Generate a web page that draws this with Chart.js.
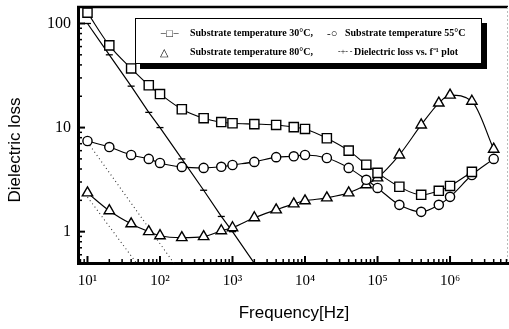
<!DOCTYPE html>
<html><head><meta charset="utf-8">
<script src="https://cdn.jsdelivr.net/npm/chart.js@4/dist/chart.umd.min.js"></script>
<style>
html,body{margin:0;padding:0;background:#fff;overflow:hidden;}
#wrap{position:relative;width:509px;height:329px;}
#c{position:absolute;left:0;top:0;}
.t{position:absolute;white-space:nowrap;color:#000;}
#legend{position:absolute;left:135px;top:18px;width:345px;height:44px;border:1px solid #000;box-shadow:5px 5px 0 #000;background:#fff;}
#legend span{position:absolute;white-space:nowrap;font-family:"Liberation Serif",serif;font-weight:bold;font-size:10px;line-height:12px;}
</style>
</head><body>
<div id="wrap">
<canvas id="c" width="509" height="329"></canvas>
<div id="legend">
  <span style="left:24px;top:8px;font-weight:normal;font-size:11px">−□−</span>
  <span style="left:54px;top:8px">Substrate temperature 30°C,</span>
  <span style="left:191px;top:8px;font-weight:normal;font-size:11px">-○</span>
  <span style="left:209px;top:8px">Substrate temperature 55°C</span>
  <span style="left:24px;top:27px;font-weight:normal;font-size:11px">△</span>
  <span style="left:54px;top:27px">Substrate temperature 80°C,</span>
  <span style="left:202px;top:27px;font-weight:normal;font-size:8px">-+- -</span>
  <span style="left:218px;top:27px">Dielectric loss vs. f⁻¹ plot</span>
</div>
<div class="t" style="left:194px;top:303px;width:200px;text-align:center;font-family:'Liberation Sans',sans-serif;font-size:17px;line-height:20px">Frequency[Hz]</div>
<div class="t" style="left:-85px;top:140px;width:200px;text-align:center;font-family:'Liberation Sans',sans-serif;font-size:17px;line-height:20px;transform:rotate(-90deg)">Dielectric loss</div>
</div>
<script>
// ---- data ----
const freq = [10,20,40,70,100,200,400,700,1000,2000,4000,7000,10000,20000,40000,70000,100000,200000,400000,700000,1000000,2000000,4000000];
const loss30 = [127,61.6,37,25.5,21,15,12.3,11.3,11.0,10.8,10.6,10.1,9.7,7.9,6.0,4.4,3.67,2.7,2.26,2.47,2.75,3.75,null];
const loss55 = [7.43,6.5,5.46,5.0,4.57,4.19,4.1,4.2,4.37,4.68,5.2,5.3,5.46,5.1,4.1,3.15,2.63,1.81,1.55,1.81,2.16,3.5,5.0];
const loss80 = [2.36,1.59,1.19,1.0,0.915,0.877,0.896,1.02,1.09,1.36,1.62,1.85,1.98,2.11,2.36,2.82,3.29,5.46,10.6,17.2,20.5,17.9,6.2];
const invFreq = [10,20,40,70,100,200,400,700,1000,3000];
const invLoss = [100,50,25,14,10,5,2.5,1.4,1.0,0.33];
const dot1Freq = [10,200];
const dot1Loss = [7.26,0.39];
const dot2Freq = [10,60];
const dot2Loss = [2.15,0.40];
const xTickValues = [10,100,1000,10000,100000,1000000];
const xTickLabels = ['10¹','10²','10³','10⁴','10⁵','10⁶'];
const yTickValues = [1,10,100];
const yTickLabels = ['1','10','100'];

const pts = (xs, ys) => xs.map((x,i)=>({x:x,y:ys[i]}));

const marker = {borderColor:'#000',backgroundColor:'#fff',pointBorderWidth:1.4,borderWidth:1.1,pointBackgroundColor:'#fff',pointBorderColor:'#000'};

const ticksPlugin = {
  id:'ticksPlugin',
  afterDraw(chart){
    const ctx = chart.ctx, a = chart.chartArea;
    const xs = chart.scales.x, ys = chart.scales.y;
    ctx.save();
    ctx.strokeStyle = '#000';
    ctx.lineWidth = 2.5;
    ctx.beginPath(); ctx.moveTo(a.left-1, a.top); ctx.lineTo(a.right, a.top); ctx.stroke();
    ctx.strokeStyle = '#bbb'; ctx.lineWidth = 1; ctx.setLineDash([2,2]);
    ctx.beginPath(); ctx.moveTo(a.right-0.5, a.top); ctx.lineTo(a.right-0.5, a.bottom); ctx.stroke();
    ctx.setLineDash([]); ctx.strokeStyle = '#000';
    for (let d=0; d<=6; d++){
      for (let m=1; m<=9; m++){
        const v = m*Math.pow(10,d);
        if (v < xs.min || v > xs.max) continue;
        const px = xs.getPixelForValue(v);
        ctx.lineWidth = m===1 ? 2 : 1.5;
        ctx.beginPath(); ctx.moveTo(px, a.bottom); ctx.lineTo(px, a.bottom - (m===1?7:4)); ctx.stroke();
      }
    }
    for (let d=-1; d<=2; d++){
      for (let m=1; m<=9; m++){
        const v = m*Math.pow(10,d);
        if (v < ys.min || v > ys.max) continue;
        const py = ys.getPixelForValue(v);
        ctx.lineWidth = m===1 ? 2 : 1.5;
        ctx.beginPath(); ctx.moveTo(a.left, py); ctx.lineTo(a.left + (m===1?7:4), py); ctx.stroke();
      }
    }
    ctx.restore();
  }
};

new Chart(document.getElementById('c'), {
  type:'line',
  data:{datasets:[
    Object.assign({label:'Substrate temperature 30°C', data:pts(freq,loss30), pointStyle:'rect', pointRadius:6.5, cubicInterpolationMode:'monotone'}, marker),
    Object.assign({label:'Substrate temperature 55°C', data:pts(freq,loss55), pointStyle:'circle', pointRadius:4.6, cubicInterpolationMode:'monotone'}, marker),
    Object.assign({label:'Substrate temperature 80°C', data:pts(freq,loss80), pointStyle:'triangle', pointRadius:6, cubicInterpolationMode:'monotone'}, marker),
    {label:'Dielectric loss vs. f⁻¹ plot', data:pts(invFreq,invLoss), borderColor:'#000', borderWidth:1.2, tension:0,
     pointStyle:'line', pointRadius:invFreq.map((f,i)=> i===invFreq.length-1 ? 0 : 3.5), pointBorderWidth:1.3, pointBorderColor:'#000'},
    {label:'dot1', data:pts(dot1Freq,dot1Loss), borderColor:'#333', borderWidth:1.1, borderDash:[1,3], pointRadius:0, tension:0},
    {label:'dot2', data:pts(dot2Freq,dot2Loss), borderColor:'#333', borderWidth:1.1, borderDash:[1,3], pointRadius:0, tension:0}
  ]},
  options:{
    responsive:false, animation:false, devicePixelRatio:1,
    layout:{autoPadding:false, padding:{top:7,right:1,left:0,bottom:0}},
    plugins:{legend:{display:false}, tooltip:{enabled:false}},
    scales:{
      x:{type:'logarithmic', min:7.4, max:6.3e6,
         afterBuildTicks:s=>{s.ticks = xTickValues.map(v=>({value:v}));},
         afterFit:s=>{s.height = 66; s.paddingLeft = 0; s.paddingRight = 0;},
         grid:{display:true, drawOnChartArea:false, drawTicks:true, tickLength:9, color:'rgba(0,0,0,0)'},
         border:{display:true, color:'#000', width:3},
         ticks:{autoSkip:false, maxRotation:0, padding:0, color:'#000',
                font:{family:'Liberation Serif', size:15},
                callback:(v)=>{const i = xTickValues.indexOf(v); return i>=0 ? xTickLabels[i] : '';}}},
      y:{type:'logarithmic', min:0.5, max:144,
         afterBuildTicks:s=>{s.ticks = yTickValues.map(v=>({value:v}));},
         afterFit:s=>{s.width = 78; s.paddingTop = 0; s.paddingBottom = 0;},
         grid:{display:false, drawTicks:false},
         border:{display:true, color:'#000', width:3},
         ticks:{autoSkip:false, padding:7, color:'#000',
                font:{family:'Liberation Serif', size:16},
                callback:(v)=>{const i = yTickValues.indexOf(v); return i>=0 ? yTickLabels[i] : '';}}}
    }
  },
  plugins:[ticksPlugin]
});
</script>
</body></html>
